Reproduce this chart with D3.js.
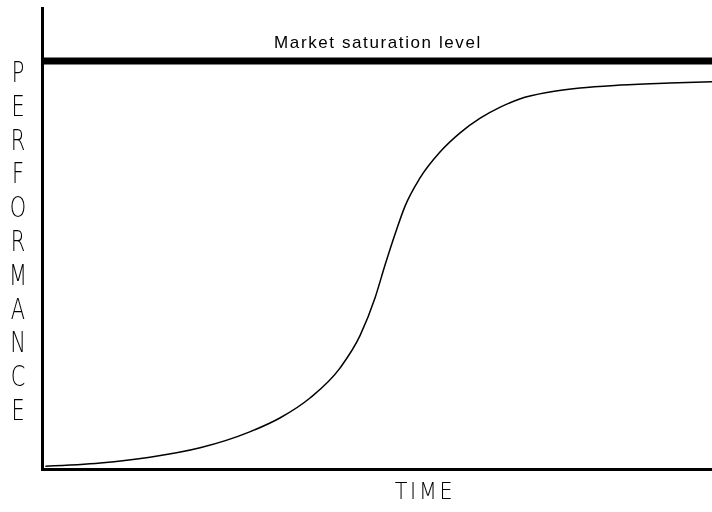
<!DOCTYPE html>
<html>
<head>
<meta charset="utf-8">
<script src="https://cdn.jsdelivr.net/npm/d3@7"></script>
<style>
  html, body { margin: 0; padding: 0; background: #fff; }
  svg { display: block; }
  .thin { opacity: 0.999; will-change: transform; }
</style>
</head>
<body>
<div id="chart"></div>
<script>
// Data (time 0..100, performance 0..113, saturation at 100)
const time = [0.5, 8.7, 16.1, 23.6, 31.0, 35.5, 40.0, 44.5, 47.5, 49.7, 51.2, 52.7,
              54.2, 56.4, 59.4, 62.4, 65.4, 68.4, 71.3, 75.8, 80.3, 86.3, 93.7, 100];
const performance = [0.7, 1.5, 2.9, 5.2, 9.1, 12.5, 17.4, 24.8, 32.8, 41.9, 50.0, 57.6,
                     64.5, 71.3, 77.7, 82.4, 86.0, 88.7, 90.7, 92.4, 93.4, 94.1, 94.6, 94.9];
const saturationLevel = 100;
const saturationLabel = "Market saturation level";
const yLabel = "PERFORMANCE";
const xLabel = "TIME";

const W = 712, H = 512;
const svg = d3.select("#chart").append("svg").attr("width", W).attr("height", H);

const x = d3.scaleLinear().domain([0, 100]).range([42, 712]);
const y = d3.scaleLinear().domain([0, 113]).range([469, 8]);

// Axes (no ticks)
const xAxis = svg.append("g").attr("transform", `translate(0,${y(0)})`)
  .call(d3.axisBottom(x).tickValues([]).tickSizeOuter(0));
const yAxis = svg.append("g").attr("transform", `translate(${x(0)},0)`)
  .call(d3.axisLeft(y).tickValues([]).tickSizeOuter(0));
[xAxis, yAxis].forEach(g => g.select(".domain")
  .attr("stroke", "#000").attr("stroke-width", 3).attr("stroke-linecap", "square"));

// Saturation line
svg.append("line")
  .attr("x1", x(0)).attr("x2", x(100))
  .attr("y1", y(saturationLevel)).attr("y2", y(saturationLevel))
  .attr("stroke", "#000").attr("stroke-width", 7);

svg.append("text")
  .attr("class", "thin")
  .attr("x", 378).attr("y", 48)
  .attr("text-anchor", "middle")
  .attr("font-family", "Liberation Sans, Arial, sans-serif")
  .attr("font-size", 17)
  .attr("letter-spacing", 1.6)
  .attr("fill", "#000")
  .text(saturationLabel);

// S-curve
const line = d3.line()
  .x((d, i) => x(time[i]))
  .y((d, i) => y(performance[i]))
  .curve(d3.curveMonotoneX);
svg.append("path")
  .datum(performance)
  .attr("d", line)
  .attr("fill", "none")
  .attr("stroke", "#000")
  .attr("stroke-width", 1.5);

// Vertical stacked y label
const letters = yLabel.split("");
svg.append("g")
  .attr("class", "thin")
  .selectAll("text")
  .data(letters)
  .join("text")
  .attr("transform", (d, i) => `translate(18,${82 + i * 33.8}) scale(0.72,1)`)
  .attr("text-anchor", "middle")
  .attr("font-family", "DejaVu Sans, sans-serif")
  .attr("font-size", 29)
  .attr("font-weight", 200)
  .attr("fill", "#000")
  .text(d => d);

// x label
svg.append("text")
  .attr("class", "thin")
  .attr("transform", "translate(425,499) scale(0.9,1)")
  .attr("text-anchor", "middle")
  .attr("font-family", "DejaVu Sans, sans-serif")
  .attr("font-size", 23)
  .attr("font-weight", 200)
  .attr("letter-spacing", 3)
  .attr("fill", "#000")
  .text(xLabel);
</script>
</body>
</html>
